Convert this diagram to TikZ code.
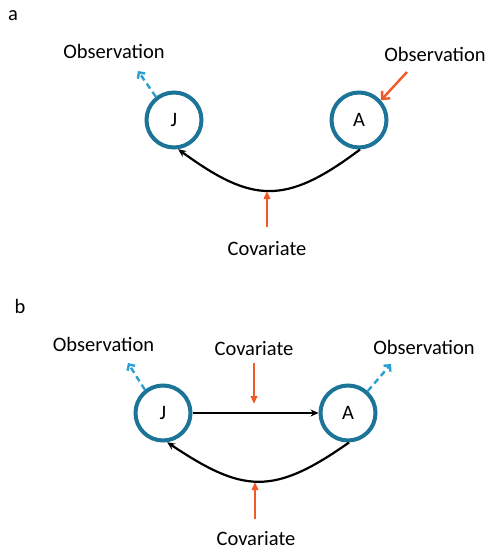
\documentclass[tikz,border=0pt]{standalone}
\usepackage{fontspec}
\setmainfont{Carlito}
\usetikzlibrary{arrows.meta}
\definecolor{ringc}{HTML}{1C7599}
\definecolor{obsblue}{HTML}{2A9FD2}
\definecolor{covor}{HTML}{F05A28}
\tikzset{
  state/.style={circle, draw=ringc, line width=4pt, minimum size=55pt, inner sep=0pt, font=\fontsize{20.5}{24}\selectfont},
  lbl/.style={anchor=base, inner sep=0pt, font=\fontsize{20.5}{24}\selectfont},
  link/.style={black, line width=2.2pt, -{Stealth[length=8pt,width=7pt]}},
  covarrow/.style={covor, line width=2.4pt, -{Triangle[length=8pt,width=6.5pt]}},
  obsin/.style={covor, line width=2.4pt, -{Straight Barb[length=6pt,width=11pt,line width=2.4pt]}},
  obsout/.style={obsblue, line width=2.4pt, dash pattern=on 6pt off 4pt, -{Straight Barb[length=4.5pt,width=9pt,line width=2.4pt]}}
}
\begin{document}
\begin{tikzpicture}[x=1pt,y=-1pt]
\useasboundingbox (0,0) rectangle (488,551);
% panel a
\node[lbl] (la) at (13,21) {a};
\node[state] (Ja) at (174,120) {J};
\node[state] (Aa) at (359,120) {A};
\node[lbl] (obsJa) at (114,59) {Observation};
\node[lbl] (obsAa) at (435,61) {Observation};
\node[lbl] (cova) at (267,255) {Covariate};
\coordinate (obsJaend) at (138,71);
\coordinate (obsAastart) at (407,72);
\coordinate (covastart) at (267,227);
\coordinate (covaend) at (267,191);
\draw[link] (Aa.-88) .. controls (285,206) and (252,203) .. (Ja.-82);
\draw[obsout] (Ja.128) -- (obsJaend);
\draw[obsin] (obsAastart) -- (Aa.42);
\draw[covarrow] (covastart) -- (covaend);
% panel b
\node[lbl] (lb) at (20,313) {b};
\node[state] (Jb) at (163,413) {J};
\node[state] (Ab) at (348,413) {A};
\node[lbl] (obsJb) at (103.5,351) {Observation};
\node[lbl] (obsAb) at (424,354) {Observation};
\node[lbl] (covbtop) at (254,355) {Covariate};
\node[lbl] (covbbot) at (256,545) {Covariate};
\coordinate (obsJbend) at (128,363);
\coordinate (obsAbend) at (391,364);
\coordinate (covtstart) at (254,363);
\coordinate (covtend) at (254,404);
\coordinate (covbstart) at (255,519);
\coordinate (covbend) at (255,482);
\draw[link] (Jb.east) -- (Ab.west);
\draw[link] (Ab.-88) .. controls (273,496) and (243,493) .. (Jb.-82);
\draw[obsout] (Jb.128) -- (obsJbend);
\draw[obsout] (Ab.48) -- (obsAbend);
\draw[covarrow] (covtstart) -- (covtend);
\draw[covarrow] (covbstart) -- (covbend);
\end{tikzpicture}
\end{document}
